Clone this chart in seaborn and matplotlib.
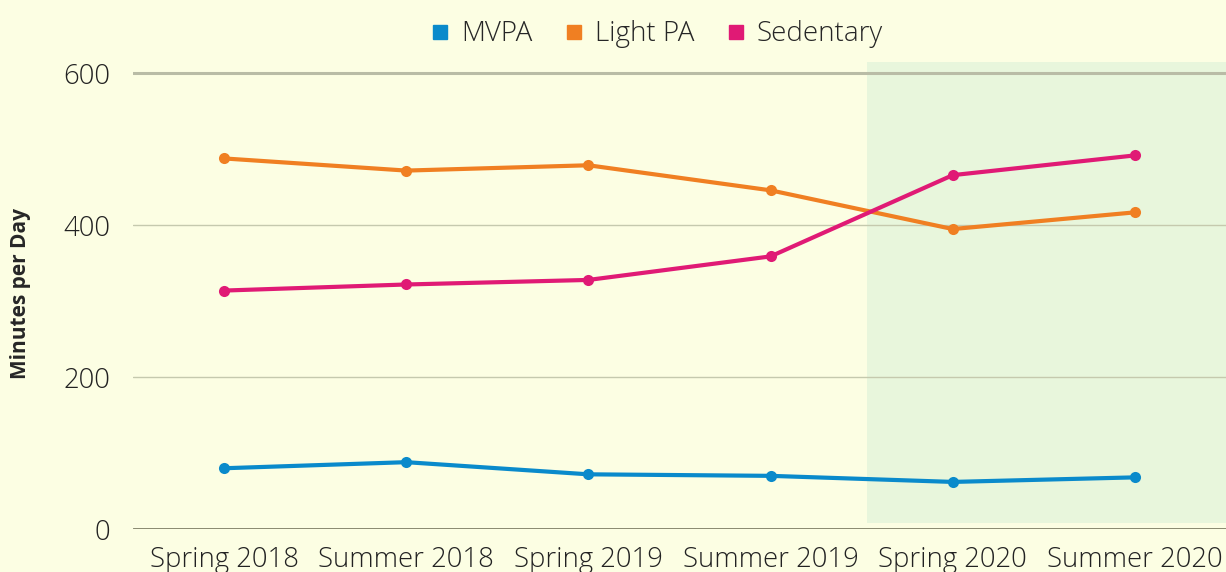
import pandas as pd
import seaborn as sns
import matplotlib.pyplot as plt
from matplotlib.lines import Line2D

# ── Data ───────────────────────────────────────────────────────────────────────
seasons = ["Spring 2018", "Summer 2018", "Spring 2019", "Summer 2019", "Spring 2020", "Summer 2020"]
mvpa = [80, 88, 72, 70, 62, 68]
light_pa = [488, 472, 479, 446, 395, 417]
sedentary = [314, 322, 328, 359, 466, 492]

series = ["MVPA", "Light PA", "Sedentary"]
colors = ["#0A8ACB", "#F07F22", "#E01A75"]

df = pd.DataFrame({
    "season": seasons * 3,
    "minutes": mvpa + light_pa + sedentary,
    "activity": [s for s in series for _ in seasons],
})

# ── Style ──────────────────────────────────────────────────────────────────────
sns.set_style("white")
plt.rcParams["font.family"] = ["Open Sans", "DejaVu Sans"]
bg = "#FCFEE3"

fig = plt.figure(figsize=(12.26, 5.72), dpi=100, facecolor=bg)
ax = fig.add_axes([133 / 1226, 1 - 529 / 572, 1 - 133 / 1226, (529 - 62) / 572])
ax.set_facecolor(bg)

# shaded pandemic period
ax.axvspan(3.53, 5.5, ymin=8 / 615, ymax=1, color="#E8F6DC", lw=0, zorder=0)

# gridlines
for y in (200, 400):
    ax.axhline(y, color="#C5C9AE", lw=1.0, zorder=1)
ax.axhline(600, color="#B9BCA6", lw=2.2, zorder=1)
ax.axhline(0, color="#67674F", lw=1.8, zorder=3)

sns.lineplot(data=df, x="season", y="minutes", hue="activity",
             palette=dict(zip(series, colors)), marker="o", markersize=8,
             markeredgewidth=0, linewidth=3, legend=False, ax=ax, zorder=4)

ax.set_xlim(-0.5, 5.5)
ax.set_ylim(0, 615)
ax.set_yticks([0, 200, 400, 600])
ax.tick_params(axis="both", length=0, labelsize=19.8, colors="#222222")
ax.tick_params(axis="y", pad=16.5)
ax.tick_params(axis="x", pad=12)
for lbl in ax.get_xticklabels() + ax.get_yticklabels():
    lbl.set_fontweight("light")
for s in ax.spines.values():
    s.set_visible(False)

ax.set_xlabel("")
ax.set_ylabel("Minutes per Day", fontsize=15, fontweight="bold")
ax.yaxis.set_label_coords(-102 / 1093, 0.505)

handles = [Line2D([], [], marker="s", ls="", color=c, markersize=10) for c in colors]
leg = fig.legend(handles, series, loc="upper center", bbox_to_anchor=(0.534, 1.008),
                 ncol=3, frameon=False, fontsize=20, handletextpad=0.25,
                 columnspacing=1.0, handlelength=1.0)
for t in leg.get_texts():
    t.set_fontweight("light")

plt.savefig("out.png", dpi=100, facecolor=bg)
